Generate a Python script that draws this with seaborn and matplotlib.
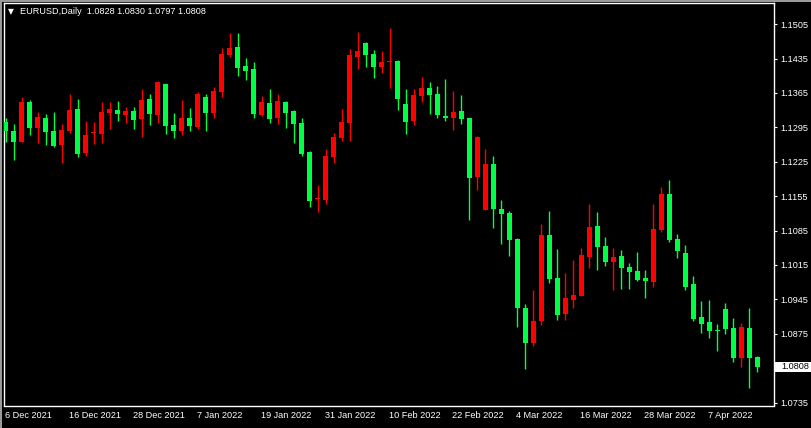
import numpy as np
import pandas as pd
import matplotlib
matplotlib.use("Agg")
import matplotlib.pyplot as plt
import matplotlib.transforms as mtransforms
from matplotlib.patches import Rectangle
import seaborn as sns

# ---------------- data ----------------
dates = pd.bdate_range("2021-12-06", "2022-04-15")

opens = [1.1305, 1.1287, 1.1266, 1.1346, 1.1293, 1.1315, 1.1287, 1.1260, 1.1287, 1.1333,
         1.1242, 1.1283, 1.1281, 1.1325, 1.1331, 1.1321, 1.1329, 1.1311, 1.1352, 1.1321,
         1.1384, 1.1299, 1.1287, 1.1315, 1.1295, 1.1356, 1.1325, 1.1367, 1.1443, 1.1459,
         1.1419, 1.1413, 1.1321, 1.1344, 1.1313, 1.1346, 1.1329, 1.1303, 1.1244, 1.1149,
         1.1147, 1.1234, 1.1273, 1.1303, 1.1439, 1.1466, 1.1445, 1.1417, 1.1427, 1.1431,
         1.1342, 1.1307, 1.1359, 1.1376, 1.1363, 1.1319, 1.1315, 1.1329, 1.1313, 1.1193,
         1.1127, 1.1220, 1.1129, 1.1120, 1.1068, 1.0927, 1.0857, 1.0901, 1.1076, 1.0988,
         1.0915, 1.0943, 1.0951, 1.1032, 1.1094, 1.1054, 1.1020, 1.1034, 1.1010, 1.1002,
         1.0988, 1.0980, 1.1086, 1.1159, 1.1068, 1.1040, 1.0976, 1.0909, 1.0899, 1.0882,
         1.0925, 1.0887, 1.0826, 1.0887, 1.0828]

highs = [1.1315, 1.1301, 1.1357, 1.1350, 1.1327, 1.1323, 1.1327, 1.1301, 1.1363, 1.1352,
         1.1307, 1.1305, 1.1346, 1.1346, 1.1348, 1.1337, 1.1337, 1.1372, 1.1363, 1.1389,
         1.1384, 1.1325, 1.1350, 1.1335, 1.1367, 1.1363, 1.1378, 1.1457, 1.1486, 1.1486,
         1.1437, 1.1427, 1.1359, 1.1372, 1.1363, 1.1348, 1.1331, 1.1313, 1.1246, 1.1177,
         1.1250, 1.1283, 1.1333, 1.1455, 1.1488, 1.1468, 1.1453, 1.1451, 1.1498, 1.1433,
         1.1372, 1.1372, 1.1398, 1.1388, 1.1380, 1.1394, 1.1369, 1.1361, 1.1313, 1.1277,
         1.1250, 1.1236, 1.1147, 1.1124, 1.1070, 1.0935, 1.0963, 1.1098, 1.1124, 1.1048,
         1.0998, 1.1024, 1.1050, 1.1139, 1.1122, 1.1072, 1.1050, 1.1046, 1.1018, 1.1042,
         1.1004, 1.1139, 1.1173, 1.1187, 1.1078, 1.1056, 1.0992, 1.0941, 1.0943, 1.0895,
         1.0937, 1.0907, 1.0897, 1.0927, 1.0830]

lows = [1.1266, 1.1228, 1.1266, 1.1279, 1.1264, 1.1260, 1.1254, 1.1222, 1.1283, 1.1234,
        1.1236, 1.1262, 1.1264, 1.1291, 1.1307, 1.1303, 1.1291, 1.1275, 1.1299, 1.1303,
        1.1281, 1.1273, 1.1279, 1.1287, 1.1291, 1.1287, 1.1313, 1.1356, 1.1439, 1.1400,
        1.1392, 1.1315, 1.1319, 1.1303, 1.1301, 1.1293, 1.1264, 1.1236, 1.1133, 1.1122,
        1.1139, 1.1222, 1.1268, 1.1268, 1.1413, 1.1417, 1.1396, 1.1405, 1.1376, 1.1331,
        1.1281, 1.1299, 1.1346, 1.1323, 1.1315, 1.1307, 1.1289, 1.1301, 1.1106, 1.1167,
        1.1127, 1.1090, 1.1058, 1.1034, 1.0889, 1.0804, 1.0851, 1.0893, 1.0978, 1.0903,
        1.0903, 1.0927, 1.0951, 1.1008, 1.1004, 1.1012, 1.0963, 1.0965, 1.0967, 1.0982,
        1.0947, 1.0971, 1.1082, 1.1062, 1.1030, 1.0963, 1.0901, 1.0877, 1.0867, 1.0839,
        1.0875, 1.0818, 1.0808, 1.0764, 1.0797]

closes = [1.1287, 1.1266, 1.1346, 1.1293, 1.1317, 1.1285, 1.1258, 1.1289, 1.1331, 1.1240,
          1.1279, 1.1284, 1.1327, 1.1333, 1.1323, 1.1329, 1.1309, 1.1350, 1.1323, 1.1388,
          1.1297, 1.1287, 1.1315, 1.1297, 1.1363, 1.1325, 1.1369, 1.1445, 1.1457, 1.1415,
          1.1409, 1.1323, 1.1346, 1.1311, 1.1348, 1.1325, 1.1301, 1.1240, 1.1145, 1.1150,
          1.1236, 1.1275, 1.1305, 1.1443, 1.1451, 1.1443, 1.1417, 1.1427, 1.1431, 1.1352,
          1.1305, 1.1361, 1.1376, 1.1361, 1.1321, 1.1313, 1.1327, 1.1311, 1.1191, 1.1275,
          1.1220, 1.1129, 1.1118, 1.1066, 1.0927, 1.0857, 1.0901, 1.1076, 1.0986, 1.0913,
          1.0947, 1.0953, 1.1036, 1.1092, 1.1052, 1.1020, 1.1032, 1.1008, 1.1000, 1.0984,
          1.0982, 1.1088, 1.1159, 1.1066, 1.1044, 1.0971, 1.0905, 1.0895, 1.0881, 1.0881,
          1.0885, 1.0826, 1.0889, 1.0826, 1.0808]

tick_dates = ["2021-12-06", "2021-12-16", "2021-12-28", "2022-01-07", "2022-01-19", "2022-01-31",
              "2022-02-10", "2022-02-22", "2022-03-04", "2022-03-16", "2022-03-28", "2022-04-07"]
tick_labels = ["6 Dec 2021", "16 Dec 2021", "28 Dec 2021", "7 Jan 2022", "19 Jan 2022", "31 Jan 2022",
               "10 Feb 2022", "22 Feb 2022", "4 Mar 2022", "16 Mar 2022", "28 Mar 2022", "7 Apr 2022"]
price_ticks = [1.0735, 1.0875, 1.0945, 1.1015, 1.1085, 1.1155, 1.1225, 1.1295, 1.1365, 1.1435, 1.1505]
symbol_title = "EURUSD,Daily"
last_quote = [1.0828, 1.0830, 1.0797, 1.0808]

# ---------------- style ----------------
UP_COLOR = "#FF0000"
DOWN_COLOR = "#00FF44"
sns.set_theme(style="dark", rc={
    "axes.facecolor": "black",
    "figure.facecolor": "black",
    "axes.edgecolor": "white",
    "axes.grid": False,
})
plt.rcParams["font.family"] = ["Liberation Sans", "DejaVu Sans"]
FS = 6.6

df = pd.DataFrame({"date": dates, "open": opens, "high": highs, "low": lows, "close": closes})
df["x"] = np.arange(len(df))
df["up"] = df["close"] > df["open"]
df["color"] = np.where(df["up"], UP_COLOR, DOWN_COLOR)
df["body_low"] = df[["open", "close"]].min(axis=1)
df["body_h"] = (df["close"] - df["open"]).abs().clip(lower=0.00022)

W, H = 812, 428
fig = plt.figure(figsize=(W / 100, H / 100), dpi=100, facecolor="black")
ax = fig.add_axes([4.5 / W, (H - 405.5) / H, 769.5 / W, 402 / H])
ax.set_facecolor("black")

# wicks
ax.vlines(df["x"], df["low"], df["high"], colors=df["color"], linewidth=1.0, zorder=2)
# bodies
ax.bar(df["x"], df["body_h"], bottom=df["body_low"], width=0.62,
       color=df["color"], linewidth=0, zorder=3)

ax.set_xlim(-0.16, 96.09)
ax.set_ylim(1.07289, 1.15470)

for s in ax.spines.values():
    s.set_color("white")
    s.set_linewidth(1.0)

# y axis on right
ax.yaxis.tick_right()
ax.set_yticks(price_ticks)
ax.set_yticklabels([f"{v:.4f}" for v in price_ticks])
ax.tick_params(axis="y", direction="out", length=2.5, width=0.8, colors="white",
               labelcolor="white", labelsize=FS, pad=2)

# x axis
tick_pos = [dates.get_loc(pd.Timestamp(d)) for d in tick_dates]
ax.set_xticks(tick_pos)
ax.set_xticklabels(tick_labels, ha="left")
ax.tick_params(axis="x", direction="out", length=2.5, width=0.8, colors="white",
               labelcolor="white", labelsize=FS, pad=1.5)
for lbl in ax.get_xticklabels():
    lbl.set_horizontalalignment("left")
    lbl.set_x(lbl.get_position()[0])
# shift x labels slightly left so they start at the tick
offset = mtransforms.ScaledTranslation(-1 / 100, 0, fig.dpi_scale_trans)
for lbl in ax.get_xticklabels():
    lbl.set_transform(lbl.get_transform() + offset)

# current price marker on the right axis
trans = mtransforms.blended_transform_factory(ax.transAxes, ax.transData)
last_close = last_quote[3]
px = 1.0 / 769.5
box_h = 10 * (1.15470 - 1.07289) / 402
ax.add_patch(Rectangle((1.0 + 1.5 * px, last_close - box_h / 2), 38 * px, box_h,
                       transform=trans, facecolor="white", edgecolor="none",
                       clip_on=False, zorder=5))
ax.plot([1.0, 1.0 + 3 * px], [last_close, last_close], transform=trans,
        color="white", linewidth=0.8, clip_on=False, zorder=5)
ax.text(1.0 + 7 * px, last_close, f"{last_close:.4f}", transform=trans,
        ha="left", va="center", color="black", fontsize=FS, zorder=6, clip_on=False)

# window border (grey) on top and left
fig.patches.append(Rectangle((0, 0), 2 / W, 1, transform=fig.transFigure,
                             facecolor="#9a9a9a", edgecolor="none", zorder=10))
fig.patches.append(Rectangle((0, 1 - 1.5 / H), 1, 1.5 / H, transform=fig.transFigure,
                             facecolor="#9a9a9a", edgecolor="none", zorder=10))

# header text
fig.text(8 / W, 1 - 12 / H, "\u25BC", color="white", fontsize=5.5, va="center", ha="left",
         family=["DejaVu Sans"])
quote_txt = " ".join(f"{v:.4f}" for v in last_quote)
fig.text(20 / W, 1 - 12 / H, f"{symbol_title}  {quote_txt}", color="white",
         fontsize=FS, va="center", ha="left")

fig.savefig("out.png", dpi=100, facecolor="black")
